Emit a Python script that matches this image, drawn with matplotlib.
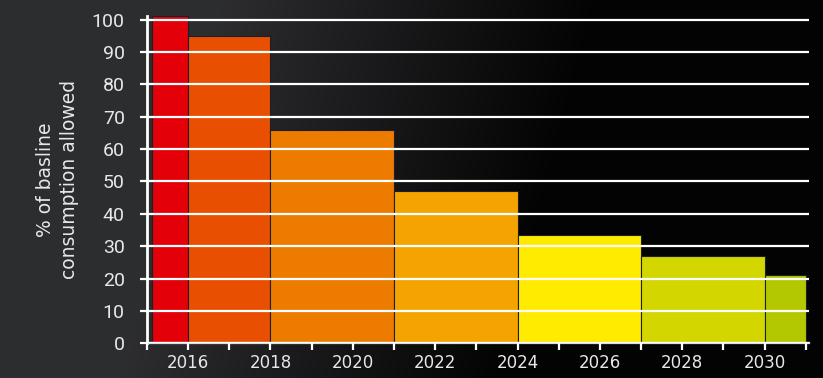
import matplotlib
matplotlib.use("Agg")
import matplotlib.pyplot as plt
import numpy as np

# phase-down steps (year start, year end, % of baseline)
starts = [2015.12, 2016, 2018, 2021, 2024, 2027, 2030]
ends = [2016, 2018, 2021, 2024, 2027, 2030, 2031]
values = [101, 95, 66, 47, 33.5, 27, 21]
colours = ['#e30008', '#e94f00', '#ed7b00', '#f5a300', '#feeb00', '#d4d600', '#b3c800']

year_ticks = list(range(2015, 2032))
year_labels = [str(y) if y % 2 == 0 else '' for y in year_ticks]
pct_ticks = list(range(0, 101, 10))

txt = '#e8e8e8'

fig = plt.figure(figsize=(8.23, 3.78), dpi=100)
fig.patch.set_facecolor('black')

# fond sombre, gris a gauche vers noir a droite
bg = fig.add_axes([0, 0, 1, 1], zorder=-10)
gx = np.linspace(0, 1, 300)
gy = np.linspace(0, 1, 150)
X, Y = np.meshgrid(gx, gy)
shade = np.clip((0.72 - X - 0.12 * Y) / 0.45, 0, 1)
level = 0.015 + 0.16 * shade
img = np.dstack([level, level * 1.01, level * 1.07])
bg.imshow(np.clip(img, 0, 1), aspect='auto', extent=[0, 1, 0, 1], origin='upper')
bg.axis('off')

ax = fig.add_axes([0.1786, 0.0918, 0.8044, 0.866])
ax.patch.set_alpha(0)

widths = [e - s for s, e in zip(starts, ends)]
ax.bar(starts, values, width=widths, align='edge', color=colours,
       edgecolor='#1b1f2a', linewidth=0.8, zorder=2)

ax.set_xlim(2015, 2031.08)
ax.set_ylim(0, 101.1)

ax.set_yticks(pct_ticks)
ax.set_yticklabels([str(p) for p in pct_ticks])
ax.set_xticks(year_ticks)
ax.set_xticklabels(year_labels)

ax.grid(axis='y', color='white', linewidth=1.6, zorder=3)
ax.set_axisbelow(False)

for s in ['top', 'right']:
    ax.spines[s].set_visible(False)
ax.spines['left'].set_color('white')
ax.spines['left'].set_linewidth(2.0)
ax.spines['bottom'].set_color('#dddddd')
ax.spines['bottom'].set_linewidth(1.6)

ax.tick_params(axis='y', colors='white', length=5, width=1.6, pad=11, labelcolor=txt)
ax.tick_params(axis='x', colors='white', length=5, width=1.6, pad=3, labelcolor=txt)
for lab in ax.get_yticklabels():
    lab.set_family(['Roboto', 'DejaVu Sans'])
    lab.set_fontsize(14)
for lab in ax.get_xticklabels():
    lab.set_family('DejaVu Sans')
    lab.set_fontsize(12)

ax.set_ylabel('% of basline\nconsumption allowed', color=txt, fontsize=13.5,
              linespacing=1.35, labelpad=9)

fig.savefig('out.png', dpi=100, facecolor=fig.get_facecolor())
